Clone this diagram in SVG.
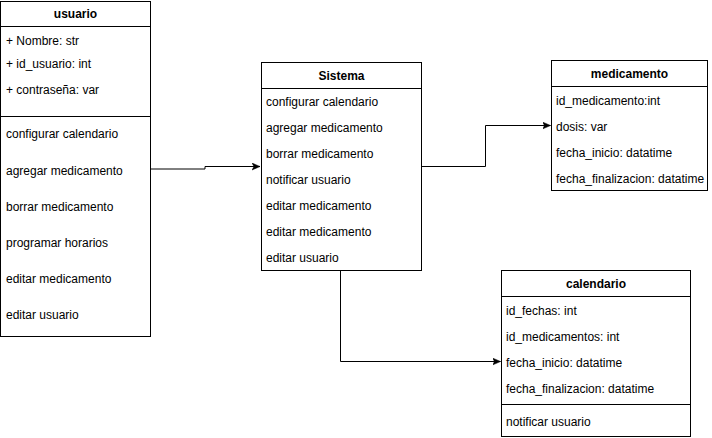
<svg xmlns="http://www.w3.org/2000/svg" width="712" height="438" viewBox="0 0 712 438">
<style>
.box{fill:#fff;stroke:#000;stroke-width:1}
.ln{stroke:#000;stroke-width:1;fill:none}
.t{font-family:"Liberation Sans",Arial,sans-serif;font-size:12px;fill:#000}
.h{font-family:"Liberation Sans",Arial,sans-serif;font-size:12px;font-weight:bold;fill:#000;text-anchor:middle}
</style>
<defs>
<marker id="arr" markerWidth="10" markerHeight="8" refX="8" refY="4" orient="auto" markerUnits="userSpaceOnUse">
<path d="M0,0.5 L8,4 L0,7.5 L2,4 Z" fill="#000" stroke="#000" stroke-width="0.5"/>
</marker>
</defs>
<rect width="712" height="438" fill="#fff"/>
<g id="connectors">
<path class="ln" d="M150.5,169 H205 V166.5 H260" marker-end="url(#arr)"/>
<path class="ln" d="M421.5,166.5 H485.5 V125.5 H550.5" marker-end="url(#arr)"/>
<path class="ln" d="M340.5,270.5 V361.5 H500.5" marker-end="url(#arr)"/>
</g>
<g id="usuario">
<rect class="box" x="0.5" y="1.5" width="150" height="335"/>
<line class="ln" x1="0.5" y1="26.5" x2="150.5" y2="26.5"/>
<line class="ln" x1="0.5" y1="116.5" x2="150.5" y2="116.5"/>
<text class="h" x="75.5" y="18">usuario</text>
<text class="t" x="6" y="45">+ Nombre: str</text>
<text class="t" x="6" y="68">+ id_usuario: int</text>
<text class="t" x="6" y="94">+ contraseña: var</text>
<text class="t" x="6" y="138">configurar calendario</text>
<text class="t" x="6" y="175">agregar medicamento</text>
<text class="t" x="6" y="211">borrar medicamento</text>
<text class="t" x="6" y="247">programar horarios</text>
<text class="t" x="6" y="283">editar medicamento</text>
<text class="t" x="6" y="319">editar usuario</text>
</g>
<g id="sistema">
<rect class="box" x="261.5" y="62.5" width="160" height="208"/>
<line class="ln" x1="261.5" y1="88.5" x2="421.5" y2="88.5"/>
<text class="h" x="341.5" y="80">Sistema</text>
<text class="t" x="266" y="106">configurar calendario</text>
<text class="t" x="266" y="132">agregar medicamento</text>
<text class="t" x="266" y="158">borrar medicamento</text>
<text class="t" x="266" y="184">notificar usuario</text>
<text class="t" x="266" y="210">editar medicamento</text>
<text class="t" x="266" y="236">editar medicamento</text>
<text class="t" x="266" y="262">editar usuario</text>
</g>
<g id="medicamento">
<rect class="box" x="551.5" y="60.5" width="156" height="130"/>
<line class="ln" x1="551.5" y1="86.5" x2="707.5" y2="86.5"/>
<text class="h" x="629.5" y="78">medicamento</text>
<text class="t" x="556" y="105">id_medicamento:int</text>
<text class="t" x="556" y="131">dosis: var</text>
<text class="t" x="556" y="157">fecha_inicio: datatime</text>
<text class="t" x="556" y="183">fecha_finalizacion: datatime</text>
</g>
<g id="calendario">
<rect class="box" x="501.5" y="270.5" width="189" height="166"/>
<line class="ln" x1="501.5" y1="296.5" x2="690.5" y2="296.5"/>
<line class="ln" x1="501.5" y1="404.5" x2="690.5" y2="404.5"/>
<text class="h" x="596" y="288">calendario</text>
<text class="t" x="506" y="315">id_fechas: int</text>
<text class="t" x="506" y="341">id_medicamentos: int</text>
<text class="t" x="506" y="367">fecha_inicio: datatime</text>
<text class="t" x="506" y="393">fecha_finalizacion: datatime</text>
<text class="t" x="506" y="426">notificar usuario</text>
</g>
</svg>
